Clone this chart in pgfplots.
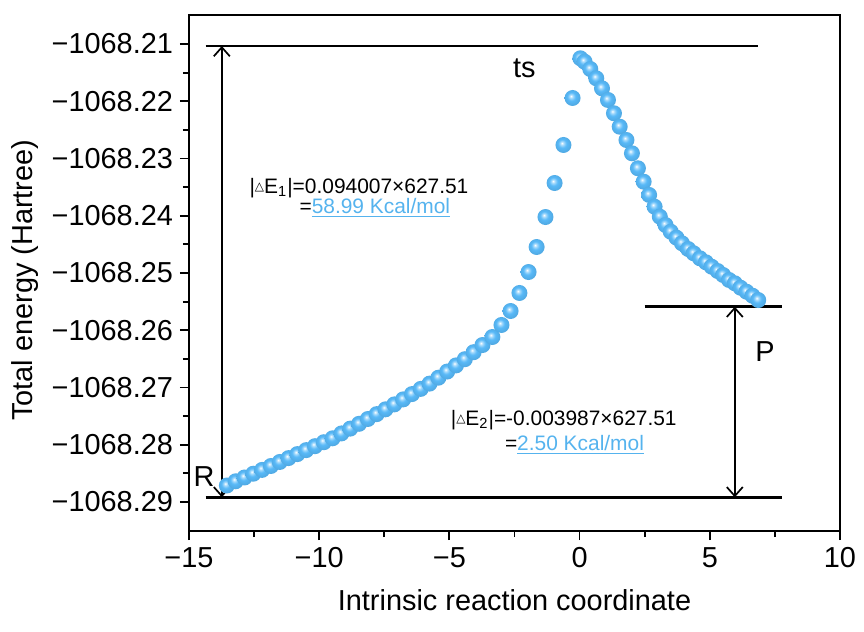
\documentclass[border=0pt]{standalone}
\usepackage{fontspec}
\setmainfont{Liberation Sans}
\newfontfamily\dejavu{DejaVu Sans}
\usepackage{pgfplots}
\pgfplotsset{compat=1.18}
\usetikzlibrary{arrows.meta}
\definecolor{ballblue}{HTML}{58B9F8}
\definecolor{txtblue}{HTML}{55B3EE}
\pgfdeclareradialshading{lightball}{\pgfpoint{-5bp}{6bp}}{%
  color(0bp)=(white); color(5bp)=(ballblue!50!white); color(13bp)=(ballblue);
  color(25bp)=(ballblue!92!black); color(50bp)=(ballblue!92!black)}
\pgfdeclareplotmark{lball}{%
  \pgfpathcircle{\pgfpointorigin}{\pgfplotmarksize}%
  \pgfshadepath{lightball}{0}%
  \pgfusepath{}}
\newcommand{\dE}{|{\dejavu\fontsize{6}{6}\selectfont\raisebox{0.45ex}{△}}E}
% energies are stored as E + 1068 (Hartree)
\begin{document}
\begin{tikzpicture}
\path[use as bounding box] (-94.5bp,-50.4bp) rectangle (337.5bp,265.6bp);
\begin{axis}[
  at={(0,0)}, anchor=south west,
  scale only axis,
  width=325.5bp, height=258.2bp,
  xmin=-15, xmax=10,
  ymin=-0.2951, ymax=-0.2049,
  xtick={-15,-10,-5,0,5,10},
  xticklabels={−15,−10,−5,0,5,10},
  ytick={-0.29,-0.28,-0.27,-0.26,-0.25,-0.24,-0.23,-0.22,-0.21},
  yticklabels={−1068.29,−1068.28,−1068.27,−1068.26,−1068.25,−1068.24,−1068.23,−1068.22,−1068.21},
  minor x tick num=1, minor y tick num=1,
  tick pos=left, tick align=outside,
  major tick length=4.5bp, minor tick length=3bp,
  every tick/.style={black, line width=0.9bp},
  axis line style={line width=1bp},
  tick label style={font=\fontsize{14.5}{17}\selectfont},
  label style={font=\fontsize{14.5}{17}\selectfont},
  xlabel={Intrinsic reaction coordinate},
  ylabel={Total energy (Hartree)},
  xlabel style={at={(axis description cs:0.5,-0.1336)}, anchor=center},
  ylabel style={at={(axis description cs:-0.252,0.486)}, anchor=center},
  clip=false,
]
\addplot[only marks, mark=lball, mark size=4bp] coordinates {
(-13.546,-0.28712) (-13.208,-0.28638) (-12.869,-0.28572) (-12.531,-0.28506)
(-12.192,-0.28439) (-11.854,-0.28371) (-11.515,-0.28301) (-11.177,-0.28233)
(-10.838,-0.28163) (-10.500,-0.28094) (-10.162,-0.28025) (-9.823,-0.27956)
(-9.485,-0.27887) (-9.146,-0.27802) (-8.808,-0.27718) (-8.469,-0.27634)
(-8.131,-0.27550) (-7.792,-0.27465) (-7.454,-0.27381) (-7.115,-0.27295)
(-6.777,-0.27208) (-6.438,-0.27115) (-6.100,-0.27024) (-5.762,-0.26932)
(-5.423,-0.26829) (-5.085,-0.26721) (-4.746,-0.26614) (-4.408,-0.26506)
(-4.069,-0.26383) (-3.73,-0.26258) (-3.35,-0.26118) (-3.00,-0.25908)
(-2.65,-0.25664) (-2.31,-0.25349) (-1.96,-0.24983) (-1.65,-0.24546)
(-1.31,-0.24022) (-0.96,-0.23428) (-0.62,-0.22764) (-0.27,-0.21943)
(0.03,-0.21250) (0.19,-0.21309) (0.41,-0.21437) (0.64,-0.21599)
(0.86,-0.21774) (1.09,-0.21978) (1.32,-0.22210) (1.54,-0.22445)
(1.80,-0.22677) (2.01,-0.22909) (2.24,-0.23171) (2.46,-0.23405)
(2.67,-0.23637) (2.88,-0.23842) (3.08,-0.24016) (3.30,-0.24162)
(3.50,-0.24279) (3.72,-0.24383) (3.93,-0.24481) (4.17,-0.24581)
(4.38,-0.24656) (4.62,-0.24743) (4.85,-0.24813) (5.07,-0.24890)
(5.30,-0.24965) (5.51,-0.25035) (5.74,-0.25122) (5.96,-0.25180)
(6.18,-0.25257) (6.41,-0.25327) (6.64,-0.25397) (6.86,-0.25472)
};
% reference levels
\draw[line width=1.3bp] (axis cs:-14.36,-0.21035) -- (axis cs:6.85,-0.21035);
\draw[line width=1.3bp] (axis cs:-14.36,-0.28918) -- (axis cs:7.76,-0.28918);
\draw[line width=1.3bp] (axis cs:2.5,-0.25589) -- (axis cs:7.76,-0.25589);
\draw[line width=0.85bp,{Straight Barb[length=4.5bp,width=8bp]}-{Straight Barb[length=4.5bp,width=8bp]}]
  (axis cs:-13.74,-0.21035) -- (axis cs:-13.74,-0.28918);
\draw[line width=0.85bp,{Straight Barb[length=4.5bp,width=8bp]}-{Straight Barb[length=4.5bp,width=8bp]}]
  (axis cs:5.96,-0.25589) -- (axis cs:5.96,-0.28918);
\node[font=\fontsize{14.5}{17}\selectfont] at (axis cs:-2.12,-0.21419) {ts};
\node[font=\fontsize{14.5}{17}\selectfont] at (axis cs:-14.42,-0.28563) {R};
\node[font=\fontsize{14.5}{17}\selectfont] at (axis cs:7.12,-0.2638) {P};
\node[anchor=west, inner sep=0pt, font=\fontsize{10.5}{12}\selectfont]
  at (axis cs:-12.69,-0.23515) {\dE\textsubscript{1}|=0.094007×627.51};
\node[anchor=west, inner sep=0pt, font=\fontsize{10.5}{12}\selectfont]
  at (axis cs:-10.77,-0.23865) {=\textcolor{txtblue}{\underline{58.99 Kcal/mol}}};
\node[anchor=west, inner sep=0pt, font=\fontsize{10.5}{12}\selectfont]
  at (axis cs:-4.96,-0.27568) {\dE\textsubscript{2}|=-0.003987×627.51};
\node[anchor=west, inner sep=0pt, font=\fontsize{10.5}{12}\selectfont]
  at (axis cs:-2.88,-0.28004) {=\textcolor{txtblue}{\underline{2.50 Kcal/mol}}};
\end{axis}
\end{tikzpicture}
\end{document}
